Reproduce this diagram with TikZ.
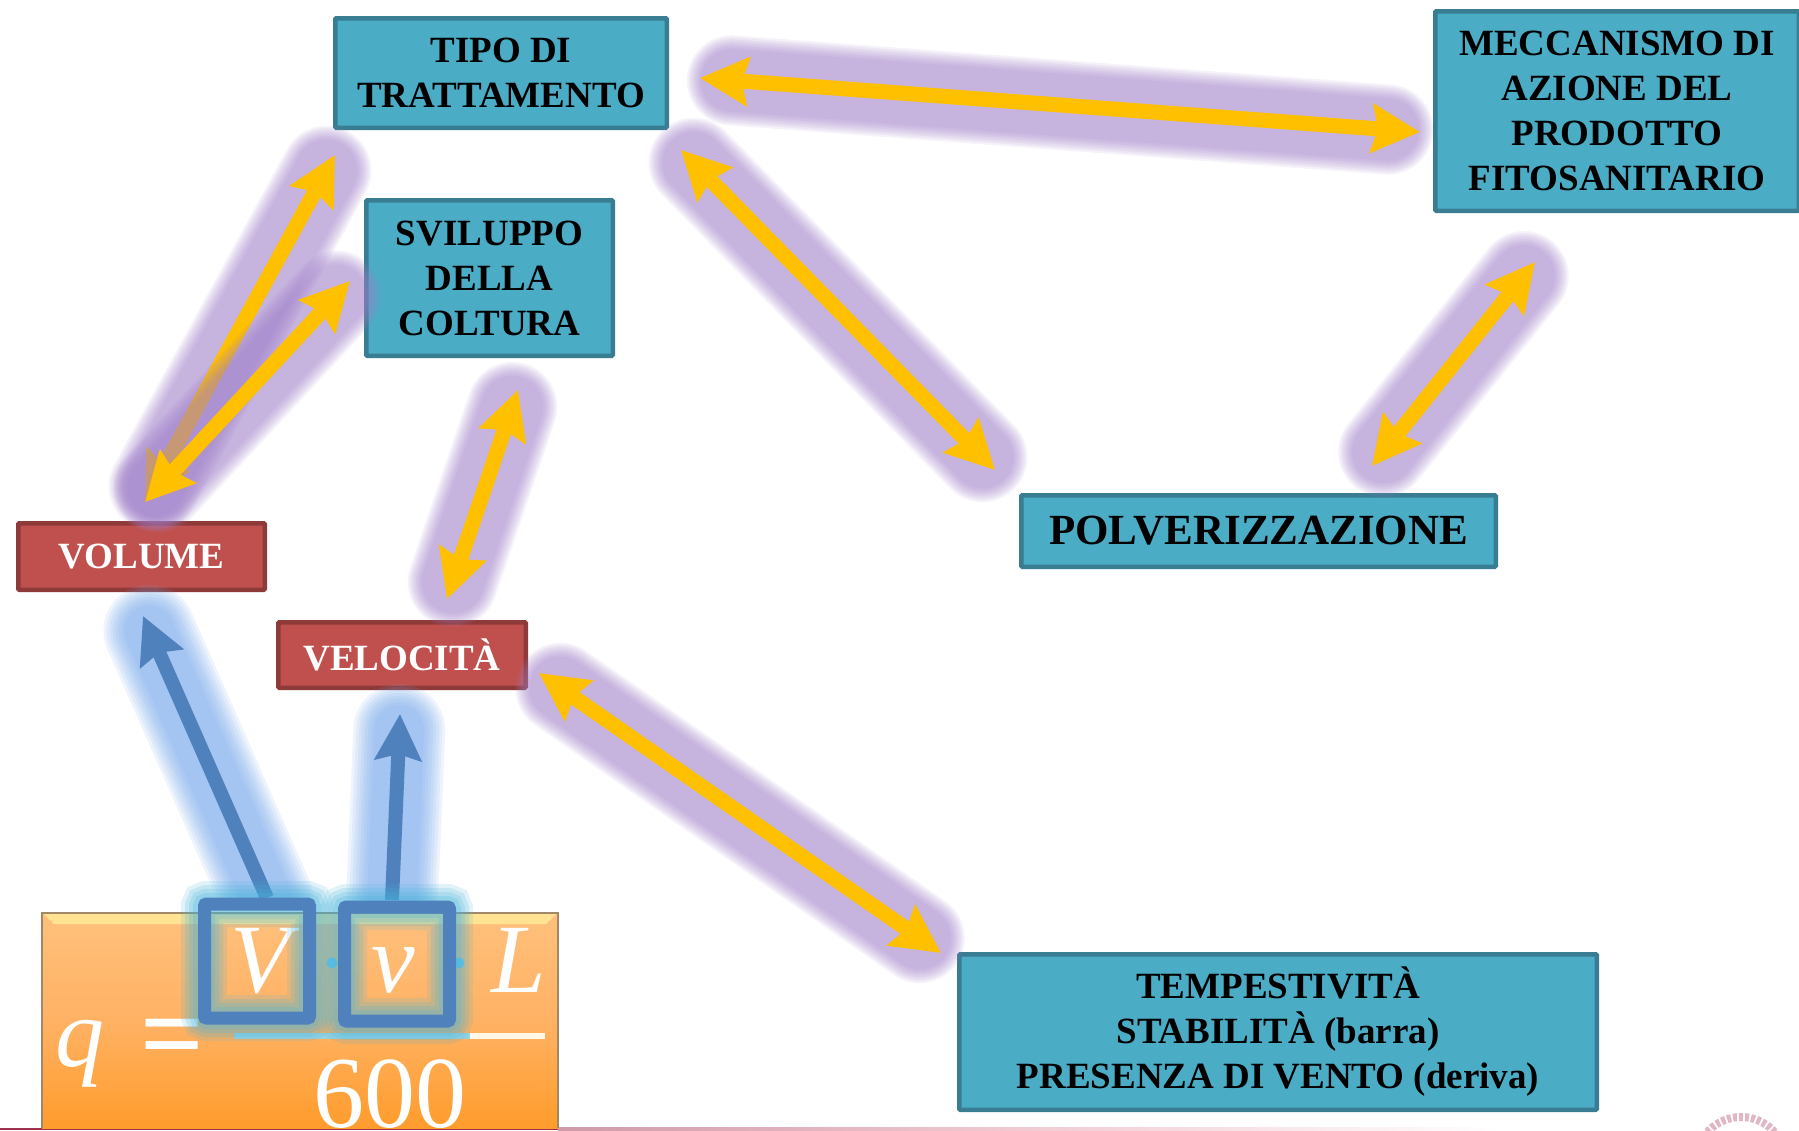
\documentclass[tikz,border=0pt]{standalone}
\usepackage{fontspec}
\setmainfont{Liberation Serif}
\usetikzlibrary{arrows.meta,calc}
\definecolor{boxfill}{HTML}{4BACC6}
\definecolor{boxedge}{HTML}{387D92}
\definecolor{redfill}{HTML}{C0504D}
\definecolor{rededge}{HTML}{8E3A38}
\definecolor{gold}{HTML}{FFC000}
\definecolor{glowp}{HTML}{A080CC}
\definecolor{glowb}{HTML}{6FA5EC}
\definecolor{glowc}{HTML}{45B4DC}
\definecolor{steel}{HTML}{4F81BD}
\definecolor{stripL}{HTML}{A03050}
\definecolor{stripN}{HTML}{D09AA8}
\definecolor{stripM}{HTML}{F0C8D0}
\definecolor{sealc}{HTML}{E0B8C4}
\definecolor{panT}{HTML}{FFC07C}
\definecolor{panM}{HTML}{FFB264}
\definecolor{panB}{HTML}{FF9C2C}
\definecolor{panH}{HTML}{FFF09C}
\definecolor{panE}{HTML}{A08868}
\definecolor{barc}{HTML}{FFF8E8}
\tikzset{
  bluebox/.style={draw=boxedge,fill=boxfill,line width=4.5pt,align=center,rounded corners=1pt,
    font=\fontsize{37}{45}\selectfont\bfseries,text=black,inner sep=0pt,
    execute at begin node={\vspace*{2pt}}},
  redbox/.style={draw=rededge,fill=redfill,line width=4.5pt,align=center,rounded corners=1pt,
    font=\fontsize{37}{45}\selectfont\bfseries,text=white,inner sep=0pt},
  goldarrow/.style={draw=gold,line width=15pt,{Stealth[length=48pt,width=48pt,inset=6pt]}-{Stealth[length=48pt,width=48pt,inset=6pt]}},
  bluearrow/.style={draw=steel,line width=14pt,-{Stealth[length=46pt,width=46pt,inset=6pt]}},
  mathtext/.style={text=white,font=\fontsize{98}{98}\selectfont\itshape,inner sep=0pt},
  mathup/.style={text=white,font=\fontsize{102}{102}\selectfont,inner sep=0pt},
  mathbold/.style={text=white,font=\fontsize{112}{112}\selectfont\bfseries,inner sep=0pt},
  mdot/.style={circle,fill=glowc!75!white,inner sep=0pt,minimum size=11pt},
  square/.style={draw=steel,line width=13pt,rounded corners=2pt,minimum width=105pt,minimum height=114pt,inner sep=0pt}
}
% glow under a connector: stacked translucent round strokes; #3 trims the ends
\newcommand{\purpleglow}[3]{%
  \foreach \w in {90,86,82,78,74,70,66,62}{%
    \draw[glowp,opacity=.1,line width=\w pt,line cap=round,shorten <=#3pt,shorten >=#3pt] (#1)--(#2);}}
\newcommand{\blueglow}[2]{%
  \foreach \w in {92,86,80,74,68,62,56,50}{%
    \draw[glowb,opacity=.115,line width=\w pt,line cap=round,shorten >=16pt] (#1)--(#2);}}
\begin{document}
\begin{tikzpicture}[x=1pt,y=-1pt]
\useasboundingbox (0,0) rectangle (1799,1130);
\fill[white] (0,0) rectangle (1799,1130);
% bottom strip
\fill[stripL] (0,1127.5) rectangle (558,1130);
\shade[left color=stripN,right color=stripM] (558,1127.5) rectangle (1000,1130);
\shade[left color=stripM,right color=white] (1000,1127.5) rectangle (1500,1130);
% seal
\begin{scope}
\clip (1690,1100) rectangle (1799,1130);
\draw[sealc,line width=8pt,dash pattern=on 4pt off 2pt] (1741,1162) circle (45);
\end{scope}
% orange panel
\shade[top color=panT,bottom color=panB,middle color=panM] (42,913) rectangle (558,1128);
\fill[panH,opacity=.75] (44,914)--(556,914)--(546,924)--(54,924)--cycle;
\draw[panE,line width=1.5pt] (42,1128)--(42,913)--(558,913)--(558,1128);
% formula
\node[mathtext,anchor=base] (qq) at (80,1066) {q};
\node[mathbold,anchor=base] (eq) at (172,1071) {=};
\node[mathtext,anchor=base] (VV) at (260,992) {V};
\node[mathtext,anchor=base] (vv) at (393,992) {v};
\node[mathtext,anchor=base] (LL) at (519,992) {L};
\fill[barc] (234,1033) rectangle (545,1039);
\begin{scope}
\clip (42,1040) rectangle (558,1129);
\node[mathup,anchor=base] (six) at (390,1127) {600};
\end{scope}
\node[mdot] (d1) at (332,963) {};
\node[mdot] (d2) at (459,963) {};
% boxes
\node[bluebox,minimum width=331.5pt,minimum height=109.5pt] (tipo) at (501,73) {TIPO DI\\TRATTAMENTO};
\node[bluebox,minimum width=246.5pt,minimum height=155.5pt] (svil) at (489.5,278) {SVILUPPO\\DELLA\\COLTURA};
\node[bluebox,minimum width=363.5pt,minimum height=199.5pt] (mecc) at (1617,111) {MECCANISMO DI\\AZIONE DEL\\PRODOTTO\\FITOSANITARIO};
\node[bluebox,minimum width=474.5pt,minimum height=71.5pt,font=\fontsize{43}{50}\selectfont\bfseries] (polv) at (1258.5,531) {POLVERIZZAZIONE};
\node[bluebox,minimum width=637.5pt,minimum height=155.5pt] (temp) at (1278,1032) {TEMPESTIVITÀ\\STABILITÀ (barra)\\PRESENZA DI VENTO (deriva)};
\node[redbox,minimum width=246.5pt,minimum height=66.5pt] (vol) at (141.5,556.5) {VOLUME};
\node[redbox,minimum width=247.5pt,minimum height=65.5pt] (vel) at (402,655) {VELOCITÀ};
% connector ends
\coordinate (a1s) at (700,78);  \coordinate (a1e) at (1420,132);
\coordinate (a2s) at (681,150); \coordinate (a2e) at (995,470);
\coordinate (a3s) at (1372,466);\coordinate (a3e) at (1535,262);
\coordinate (a4s) at (145,502); \coordinate (a4e) at (335,155);
\coordinate (a5e) at (350,281);
\coordinate (a6s) at (447,599); \coordinate (a6e) at (518,390);
\coordinate (a7s) at (539,673); \coordinate (a7e) at (941,953);
\coordinate (b1s) at (267,898); \coordinate (b1e) at (143,616);
\coordinate (b2s) at (392,900); \coordinate (b2e) at (400,714);
% gold connectors and glow
\purpleglow{a1s}{a1e}{32} \draw[goldarrow] (a1s)--(a1e);
\purpleglow{a2s}{a2e}{18} \draw[goldarrow] (a2s)--(a2e);
\purpleglow{a3s}{a3e}{18} \draw[goldarrow] (a3s)--(a3e);
\purpleglow{a6s}{a6e}{18} \draw[goldarrow] (a6s)--(a6e);
\purpleglow{a7s}{a7e}{26} \draw[goldarrow] (a7s)--(a7e);
\purpleglow{a4s}{a4e}{18} \draw[goldarrow] (a4s)--(a4e);
\purpleglow{a4s}{a5e}{20} \draw[goldarrow] (a4s)--(a5e);
% blue connectors
\begin{scope}
\clip (0,0) rectangle (1799,903);
\blueglow{b1s}{b1e} \blueglow{b2s}{b2e}
\end{scope}
\draw[bluearrow] (b1s)--(b1e);
\draw[bluearrow] (b2s)--(b2e);
% squares with glow
\foreach \w/\o in {46/.16,38/.18,30/.2,22/.22}{
  \draw[glowc,opacity=\o,line width=\w pt,rounded corners=3pt] (204,904) rectangle (310,1018);
  \draw[glowc,opacity=\o,line width=\w pt,rounded corners=3pt] (344,907) rectangle (450,1021);
}
\fill[glowc,opacity=.55] (234,1033) rectangle (470,1039);
\node[square] (sq1) at (257,961) {};
\node[square] (sq2) at (397,964) {};
\end{tikzpicture}
\end{document}
